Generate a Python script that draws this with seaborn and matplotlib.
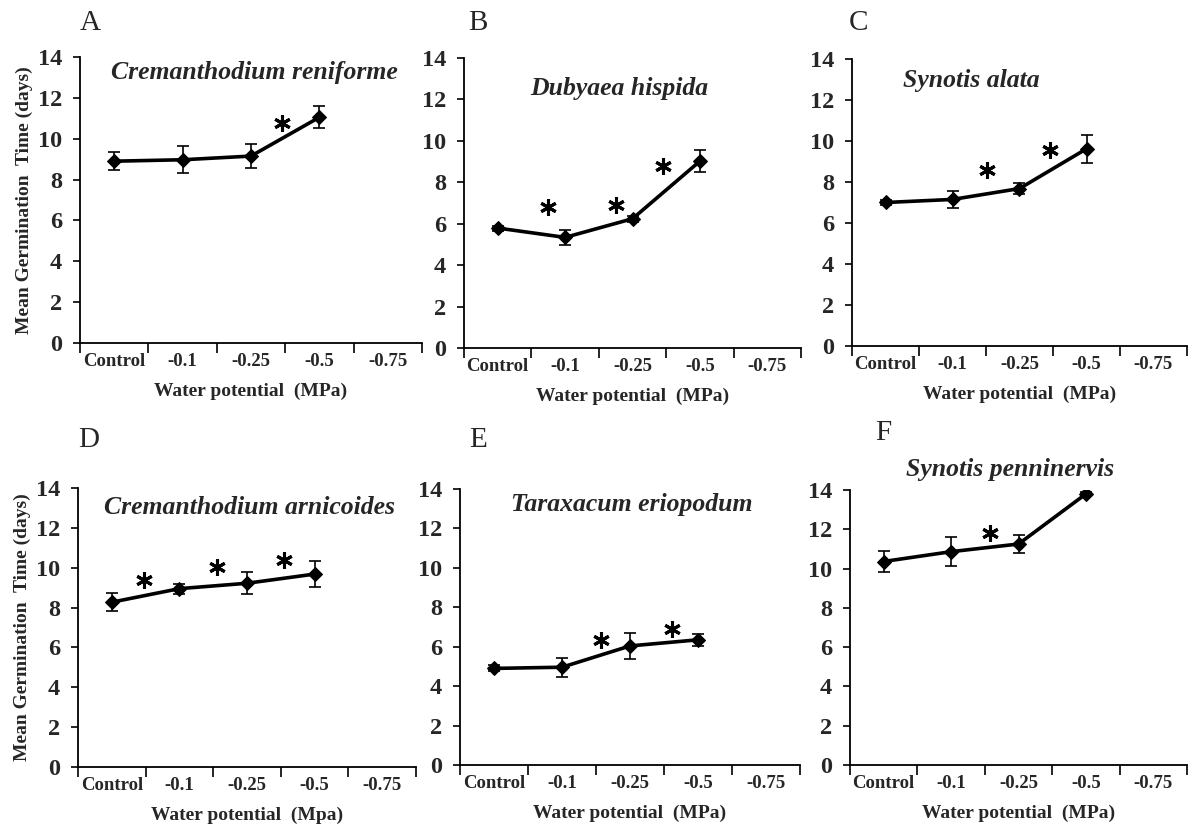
import matplotlib
matplotlib.use("Agg")
import matplotlib.pyplot as plt
import seaborn as sns
import pandas as pd

sns.set_theme(style="white")
plt.rcParams['font.family'] = ['Liberation Serif', 'DejaVu Serif']

categories = ["Control", "-0.1", "-0.25", "-0.5", "-0.75"]
treatments = ["Control", "-0.1", "-0.25", "-0.5"]

panel_letters = ["A", "B", "C", "D", "E", "F"]
species = ["Cremanthodium reniforme", "Dubyaea hispida", "Synotis alata",
           "Cremanthodium arnicoides", "Taraxacum eriopodum", "Synotis penninervis"]
xlabels = ["Water potential  (MPa)", "Water potential  (MPa)", "Water potential  (MPa)",
           "Water potential  (Mpa)", "Water potential  (MPa)", "Water potential  (MPa)"]

mgt_A = [8.9, 8.97, 9.15, 11.05]
err_A = [0.45, 0.67, 0.57, 0.55]
mgt_B = [5.79, 5.34, 6.24, 9.02]
err_B = [0.12, 0.38, 0.15, 0.53]
mgt_C = [7.0, 7.15, 7.68, 9.62]
err_C = [0.1, 0.43, 0.25, 0.67]
mgt_D = [8.27, 8.95, 9.22, 9.68]
err_D = [0.46, 0.25, 0.54, 0.65]
mgt_E = [4.9, 4.96, 6.04, 6.35]
err_E = [0.15, 0.49, 0.66, 0.3]
mgt_F = [10.36, 10.86, 11.25, 13.8]
err_F = [0.53, 0.73, 0.45, 0.1]

# significance asterisks: (category position, y value)
stars_A = [(2.46, 10.77)]
stars_B = [(0.74, 6.83), (1.76, 6.91), (2.45, 8.81)]
stars_C = [(1.51, 8.59), (2.46, 9.57)]
stars_D = [(0.47, 9.36), (1.55, 10.03), (2.55, 10.37)]
stars_E = [(1.58, 6.34), (2.62, 6.88)]
stars_F = [(1.57, 11.83)]

means = [mgt_A, mgt_B, mgt_C, mgt_D, mgt_E, mgt_F]
errs = [err_A, err_B, err_C, err_D, err_E, err_F]
stars = [stars_A, stars_B, stars_C, stars_D, stars_E, stars_F]

W, H = 1193, 830
fig = plt.figure(figsize=(W / 100, H / 100), dpi=100)

# axes boxes in pixels: left, right, top, bottom
boxes = [(80, 422, 57, 343), (464, 801, 58, 348), (852, 1187, 59, 346),
         (78, 416, 488, 767), (460, 800, 489, 765), (850, 1187, 490, 765)]
title_pos = [(254, 73), (619, 88), (971, 80), (249, 508), (632, 505), (1010, 469)]
letter_pos = [(90, 23), (478, 23), (858, 23), (89, 440), (478, 440), (883, 433)]

for i in range(6):
    l, r, t, b = boxes[i]
    ax = fig.add_axes([l / W, 1 - b / H, (r - l) / W, (b - t) / H])
    df = pd.DataFrame({"x": range(len(treatments)), "y": means[i]})
    ax.errorbar(df["x"], df["y"], yerr=errs[i], fmt="none", ecolor="black",
                elinewidth=1.2, capsize=4, capthick=1.2, zorder=2)
    sns.lineplot(data=df, x="x", y="y", ax=ax, color="black", linewidth=2.6,
                 marker="D", markersize=7.5, markeredgecolor="black", zorder=3)
    sx = [s[0] for s in stars[i]]
    sy = [s[1] for s in stars[i]]
    ax.plot(sx, sy, linestyle="none", marker=(6, 2, 0), markersize=12,
            markeredgewidth=2.2, color="black")

    ax.set_xlim(-0.5, 4.5)
    ax.set_ylim(0, 14)
    ax.set_yticks(range(0, 15, 2))
    ax.set_yticklabels([str(v) for v in range(0, 15, 2)], fontsize=17.5, fontweight="bold")
    ax.set_xticks(range(len(categories)))
    ax.set_xticklabels(categories, fontsize=13.5, fontweight="bold")
    ax.set_xticks([k - 0.5 for k in range(len(categories) + 1)], minor=True)
    ax.tick_params(axis="x", which="major", length=0, pad=7)
    ax.tick_params(axis="x", which="minor", length=7, width=1.2, direction="out",
                   color="black", bottom=True)
    ax.tick_params(axis="y", which="major", length=5, width=1.2, direction="out",
                   color="black", left=True, pad=8)
    for sp in ["top", "right"]:
        ax.spines[sp].set_visible(False)
    for sp in ["left", "bottom"]:
        ax.spines[sp].set_color("black")
        ax.spines[sp].set_linewidth(1.3)
    ax.set_xlabel(xlabels[i], fontsize=14, fontweight="bold", labelpad=9)
    if i in (0, 3):
        ax.set_ylabel("Mean Germination  Time (days)", fontsize=14, fontweight="bold",
                      labelpad=3)
    else:
        ax.set_ylabel("")
    ax.set_facecolor("white")

    tx, ty = title_pos[i]
    fig.text(tx / W, 1 - ty / H, species[i], fontsize=18.5, fontweight="bold",
             fontstyle="italic", ha="center", va="center")
    lx, ly = letter_pos[i]
    fig.text(lx / W, 1 - ly / H, panel_letters[i], fontsize=21, ha="center", va="center")

fig.savefig("out.png", dpi=100, facecolor="white")
